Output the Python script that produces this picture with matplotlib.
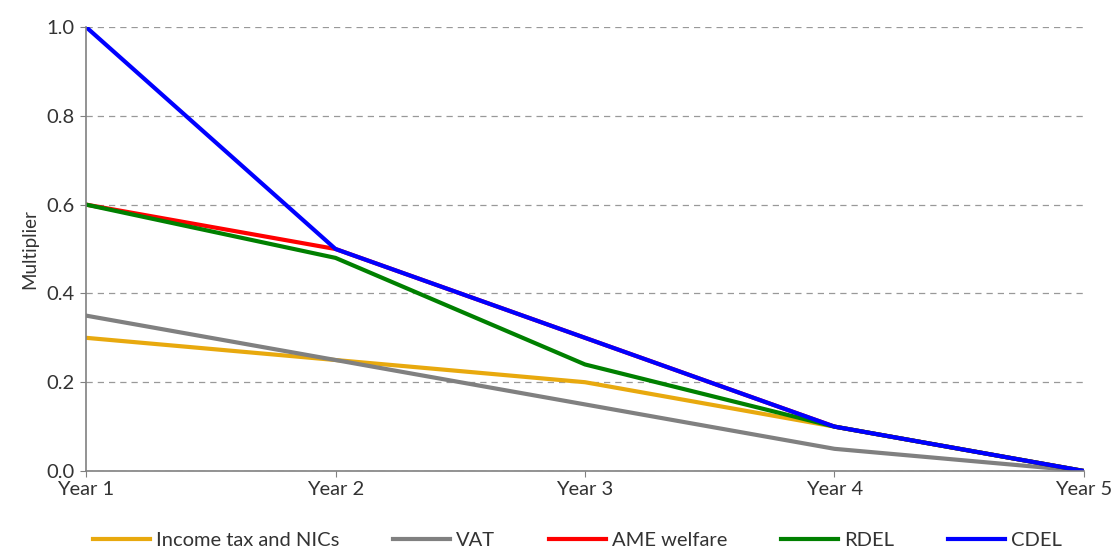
import numpy as np
import matplotlib.pyplot as plt

plt.rcParams['font.family'] = ['Lato', 'DejaVu Sans']

# categories and series
years = ['Year 1', 'Year 2', 'Year 3', 'Year 4', 'Year 5']
income_tax = [0.30, 0.25, 0.20, 0.10, 0.00]
vat = [0.35, 0.25, 0.15, 0.05, 0.00]
ame_welfare = [0.60, 0.50, 0.30, 0.10, 0.00]
rdel = [0.60, 0.48, 0.24, 0.10, 0.00]
cdel = [1.00, 0.50, 0.30, 0.10, 0.00]

series = [
    ('Income tax and NICs', income_tax, '#E8A90E'),
    ('VAT', vat, '#808080'),
    ('AME welfare', ame_welfare, '#FF0000'),
    ('RDEL', rdel, '#008000'),
    ('CDEL', cdel, '#0000FF'),
]

fig = plt.figure(figsize=(11.19, 5.5), dpi=100)
ax = fig.add_axes([0.0769, 0.1436, 0.8918, 0.8073])

x = np.arange(len(years))
for name, vals, col in series:
    ax.plot(x, vals, color=col, lw=3, label=name, solid_joinstyle='round')

ax.set_xlim(0, len(years) - 1)
ax.set_ylim(0, 1.0)
ax.set_xticks(x)
ax.set_xticklabels(years)
ax.set_yticks(np.arange(0, 1.01, 0.2))
ax.set_yticklabels(['%.1f' % v for v in np.arange(0, 1.01, 0.2)])

ax.yaxis.grid(True, ls=(0, (5, 4)), color='#999999', lw=0.9)
ax.set_axisbelow(True)
for s in ['top', 'right']:
    ax.spines[s].set_visible(False)
for s in ['left', 'bottom']:
    ax.spines[s].set_color('#808080')
    ax.spines[s].set_linewidth(1.2)
ax.tick_params(axis='both', colors='#808080', length=4, labelsize=14.5,
               labelcolor='#333333')
ax.tick_params(axis='x', pad=3)
ax.tick_params(axis='y', pad=4)

ax.set_ylabel('Multiplier', fontsize=13.5, color='#333333', labelpad=6)

fig.legend(*ax.get_legend_handles_labels(), loc='center',
           bbox_to_anchor=(0.516, 0.018), ncol=5, frameon=False,
           fontsize=14.5, handlelength=2.8, columnspacing=2.7,
           handletextpad=0.3, labelcolor='#333333',
           borderaxespad=0, borderpad=0)

fig.savefig('out.png', dpi=100)
plt.close()
